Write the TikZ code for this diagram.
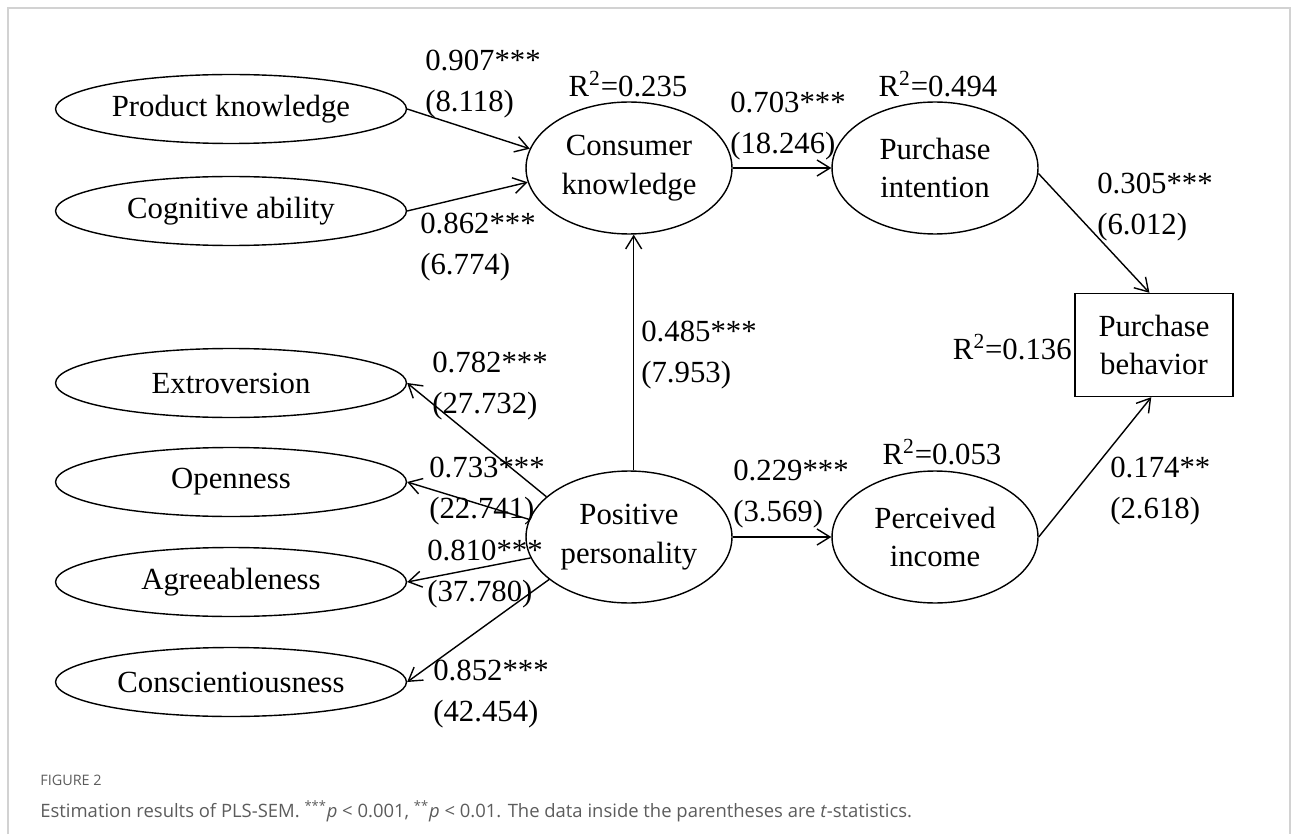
\documentclass[tikz,border=0pt]{standalone}
\usepackage{fontspec}
\setmainfont{Liberation Serif}
\newfontfamily\capfont{Open Sans}
\usetikzlibrary{arrows.meta,shapes.geometric}
\definecolor{framegray}{HTML}{D2D2D2}
\definecolor{capgray}{HTML}{5C5C5C}
\tikzset{
  every node/.style={font=\fontsize{17.5}{22}\selectfont},
  trait/.style={ellipse,draw,line width=0.8pt,minimum width=7.02cm,minimum height=1.38cm,inner sep=0pt},
  construct/.style={ellipse,draw,line width=0.8pt,minimum width=4.12cm,minimum height=2.64cm,inner sep=0pt,align=center},
  outcome/.style={rectangle,draw,line width=0.8pt,minimum width=3.16cm,minimum height=2.06cm,inner sep=0pt,align=center},
  coef/.style={anchor=west,inner sep=0pt,align=left,font=\fontsize{17.5}{23.5}\selectfont},
  rsq/.style={inner sep=0pt},
  link/.style={-{Straight Barb[length=2.6mm,width=3.2mm]},line width=0.8pt}
}
\begin{document}
\begin{tikzpicture}[x=0.02cm,y=-0.02cm]
        \useasboundingbox (0,0) rectangle (1293,834);
        % Рамка
        \draw[framegray,line width=0.04cm] (8,834) -- (8,8) -- (1290,8) -- (1290,834);

        % Узлы
        \node[trait] (prod) at (231,109) {Product knowledge};
        \node[trait] (cogn) at (231,211) {Cognitive ability};
        \node[trait] (extr) at (231,383) {Extroversion};
        \node[trait] (open) at (231,482) {Openness};
        \node[trait] (agre) at (231,582) {Agreeableness};
        \node[trait] (cons) at (231,682) {Conscientiousness};

        \node[construct] (know) at (629,168) {Consumer\\knowledge};
        \node[construct] (intent) at (935,168) {Purchase\\intention};
        \node[construct] (pers) at (629,537) {Positive\\personality};
        \node[construct] (income) at (935,537) {Perceived\\income};
        \node[outcome] (behav) at (1154,345) {Purchase\\behavior};

        % Стрелки
        \draw[link] (prod.east) -- (know.169);
        \draw[link] (cogn.east) -- (know.188);
        \draw[link] (know.east) -- (intent.west);
        \draw[link] (intent.-3) -- (behav.95);
        \draw[link] (pers.86) -- (know.-86);
        \draw[link] (pers.east) -- (income.west);
        \draw[link] (income.east) -- (behav.-93);
        \draw[link] (pers.154) -- (extr.east);
        \draw[link] (pers.170) -- (open.east);
        \draw[link] (pers.192) -- (agre.east);
        \draw[link] (pers.208) -- (cons.east);

        % Коэффициенты
        \node[coef] (c1) at (425,84) {0.907***\\(8.118)};
        \node[coef] (c2) at (420,247) {0.862***\\(6.774)};
        \node[coef] (c3) at (730,126) {0.703***\\(18.246)};
        \node[coef] (c4) at (1097,207) {0.305***\\(6.012)};
        \node[coef] (c5) at (641,355) {0.485***\\(7.953)};
        \node[coef] (c6) at (733,494) {0.229***\\(3.569)};
        \node[coef] (c7) at (1110,491) {0.174**\\(2.618)};
        \node[coef] (c8) at (432,386) {0.782***\\(27.732)};
        \node[coef] (c9) at (429,491) {0.733***\\(22.741)};
        \node[coef] (c10) at (427,574) {0.810***\\(37.780)};
        \node[coef] (c11) at (433,694) {0.852***\\(42.454)};

        % R^2
        \node[rsq] (r1) at (628,84) {R\textsuperscript{2}=0.235};
        \node[rsq] (r2) at (938,84) {R\textsuperscript{2}=0.494};
        \node[rsq] (r3) at (942,452) {R\textsuperscript{2}=0.053};
        \node[rsq,anchor=east] (r4) at (1072,347) {R\textsuperscript{2}=0.136};

        % Подпись
        \node[anchor=west,inner sep=0pt,text=capgray,font=\capfont\fontsize{8.2}{10}\selectfont] (fig) at (40,780) {FIGURE 2};
        \node[anchor=west,inner sep=0pt,text=capgray,font=\capfont\fontsize{10.5}{12}\selectfont] (cap) at (40,811)
          {Estimation results of PLS-SEM. \textsuperscript{***}\textit{p} < 0.001, \textsuperscript{**}\textit{p} < 0.01. The data inside the parentheses are \textit{t}-statistics.};
\end{tikzpicture}
\end{document}
